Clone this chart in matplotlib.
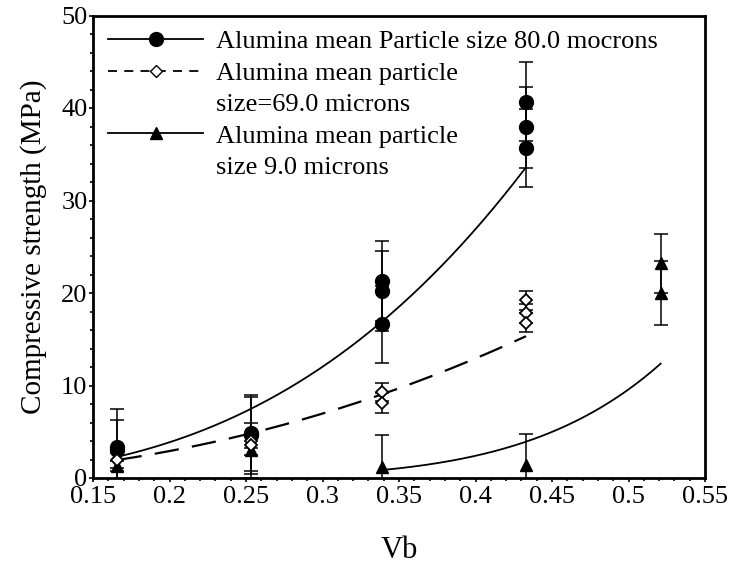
import numpy as np
import matplotlib
matplotlib.use("Agg")
import matplotlib.pyplot as plt
from matplotlib.lines import Line2D
from matplotlib.ticker import MultipleLocator

plt.rcParams['font.family'] = ['Liberation Serif', 'DejaVu Serif']

# 80.0 micron alumina (filled circles)
vb_80 = [0.166, 0.166, 0.253, 0.253, 0.339, 0.339, 0.339, 0.433, 0.433, 0.433]
cs_80 = [3.3, 3.0, 4.9, 4.6, 21.3, 20.2, 16.6, 40.7, 37.9, 35.7]
err_80 = [4.2, 3.3, 4.1, 4.2, 4.3, 4.3, 4.2, 4.3, 4.4, 4.2]

# 69.0 micron alumina (open diamonds)
vb_69 = [0.166, 0.253, 0.253, 0.339, 0.339, 0.433, 0.433, 0.433]
cs_69 = [1.9, 4.0, 3.6, 9.3, 8.1, 19.2, 17.8, 16.8]
err_69 = [0.8, 0.8, 1.1, 1.0, 1.1, 1.0, 1.0, 1.0]

# 9.0 micron alumina (filled triangles)
vb_9 = [0.166, 0.253, 0.339, 0.433, 0.521, 0.521]
cs_9 = [1.3, 3.0, 1.2, 1.4, 23.2, 20.0]
err_9 = [0.5, 3.0, 3.4, 3.4, 3.2, 3.5]

# power-law trend lines  cs = a * Vb**n
fit_80 = (350.0, 2.8, 0.166, 0.433)
fit_69 = (92.7, 2.15, 0.166, 0.433)
fit_9 = (704.0, 6.2, 0.339, 0.521)

labels = ["Alumina mean Particle size 80.0 mocrons",
          "Alumina mean particle", "size=69.0 microns",
          "Alumina mean particle", "size 9.0 microns"]


def trend(fit):
    a, n, lo, hi = fit
    x = np.linspace(lo, hi, 200)
    return x, a * x ** n


fig = plt.figure(figsize=(7.29, 5.66), dpi=100)
ax = fig.add_axes([93 / 729, 88 / 566, 612 / 729, 462.5 / 566])

eb = dict(fmt='none', ecolor='black', elinewidth=1.1, capsize=5, capthick=1.1)
ax.errorbar(vb_80, cs_80, yerr=err_80, **eb)
ax.errorbar(vb_69, cs_69, yerr=err_69, **eb)
ax.errorbar(vb_9, cs_9, yerr=err_9, **eb)

x, y = trend(fit_80)
ax.plot(x, y, color='black', lw=1.3)
x, y = trend(fit_69)
ax.plot(x, y, color='black', lw=1.6, ls=(0, (11, 6)))
x, y = trend(fit_9)
ax.plot(x, y, color='black', lw=1.3)

ax.plot(vb_80, cs_80, 'o', color='black', ms=10, zorder=4)
ax.plot(vb_69, cs_69, 'D', mfc='white', mec='black', mew=1.3, ms=6, zorder=5)
ax.plot(vb_9, cs_9, '^', color='black', ms=9, zorder=4)

ax.set_xlim(0.15, 0.55)
ax.set_ylim(0, 50)
ax.xaxis.set_minor_locator(MultipleLocator(0.01))
ax.yaxis.set_major_locator(MultipleLocator(10))
ax.yaxis.set_minor_locator(MultipleLocator(2))
ax.set_xticks(np.arange(0.15, 0.551, 0.05))
ax.set_xticklabels(["0.15", "0.2", "0.25", "0.3", "0.35", "0.4", "0.45", "0.5", "0.55"])
ax.tick_params(which='both', direction='out', width=1.2, labelsize=19, pad=1)
ax.tick_params(axis='x', pad=3)
ax.tick_params(which='major', length=3)
ax.tick_params(which='minor', length=2)
for s in ax.spines.values():
    s.set_linewidth(2)

ax.set_xlabel("Vb", fontsize=22, labelpad=20)
ax.set_ylabel("Compressive strength (MPa)", fontsize=21, labelpad=10)

blank = Line2D([], [], color='none')
handles = [
    Line2D([], [], color='black', lw=1.3, marker='o', ms=10),
    Line2D([], [], color='black', lw=1.3, ls=(0, (5, 4)), marker='D', mfc='white', mec='black', ms=6),
    blank,
    Line2D([], [], color='black', lw=1.3, marker='^', ms=9),
    blank,
]
ax.legend(handles, labels, loc='upper left', bbox_to_anchor=(108 / 729, 1 - 30 / 566),
          bbox_transform=fig.transFigure, frameon=False, fontsize=19,
          handlelength=3.6, handletextpad=0.5, labelspacing=0.3,
          borderaxespad=0, borderpad=0)

fig.savefig("out.png", dpi=100)
